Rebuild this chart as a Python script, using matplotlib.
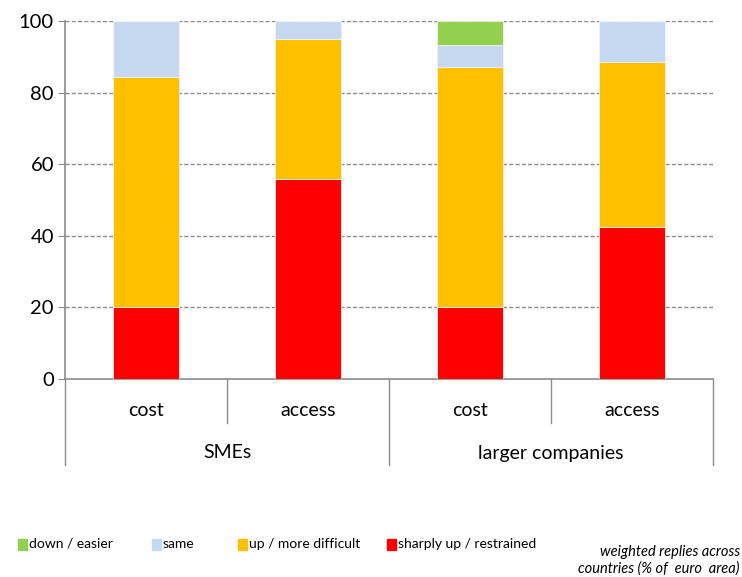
import matplotlib
matplotlib.use("Agg")
import matplotlib.pyplot as plt
from matplotlib.lines import Line2D
from matplotlib.patches import Rectangle
import numpy as np

plt.rcParams['font.family'] = ['Lato', 'DejaVu Sans']

categories = ["cost", "access", "cost", "access"]
groups = ["SMEs", "larger companies"]
series_names = ["sharply up / restrained", "up / more difficult", "same", "down / easier"]
sharply_up = [20.0, 55.9, 20.0, 42.4]
up = [64.4, 39.2, 67.1, 46.2]
same = [15.6, 4.9, 6.2, 11.4]
down = [0.0, 0.0, 6.7, 0.0]
yticks = [0, 20, 40, 60, 80, 100]

colors = {
    "sharply up / restrained": "#FF0000",
    "up / more difficult": "#FFC000",
    "same": "#C6D9F1",
    "down / easier": "#92D050",
}

fig = plt.figure(figsize=(7.42, 5.77), dpi=100)
W, H = 742, 577
left, right, top, bottom = 65, 713, 21, 379
ax = fig.add_axes([left / W, 1 - bottom / H, (right - left) / W, (bottom - top) / H])

x = np.arange(len(categories))
width = 0.41
base = np.zeros(len(categories))
for name, vals in zip(series_names, [sharply_up, up, same, down]):
    v = np.array(vals)
    ax.bar(x, v, width, bottom=base, color=colors[name], edgecolor="#F2F2F2",
           linewidth=0.6, zorder=3)
    base += v

ax.set_xlim(-0.5, 3.5)
ax.set_ylim(0, 100)
ax.set_yticks(yticks)
ax.set_yticklabels([str(t) for t in yticks], fontsize=14.5)
for t in yticks[1:]:
    ax.axhline(t, color="#8C8C8C", linestyle=(0, (3, 1.5)), linewidth=1.0, zorder=1)
ax.tick_params(axis="y", length=5, color="#8C8C8C", pad=3)
ax.tick_params(axis="x", length=0, labelbottom=False)
for s in ["top", "right"]:
    ax.spines[s].set_visible(False)
ax.spines["left"].set_color("#8C8C8C")
ax.spines["bottom"].set_color("#8C8C8C")
ax.spines["left"].set_linewidth(1.2)
ax.spines["bottom"].set_linewidth(1.2)

# two-level category axis below the plot
trans = ax.get_xaxis_transform()
ah = bottom - top
def yfrac(py):
    return (bottom - py) / ah

for i, c in enumerate(categories):
    ax.text(i, yfrac(410), c, transform=trans, ha="center", va="center", fontsize=14)
for g_i, g in enumerate(groups):
    ax.text(2 * g_i + 0.5, yfrac(453), g, transform=trans, ha="center", va="center", fontsize=14)
for xb in [0.5, 2.5]:
    ax.add_line(Line2D([xb, xb], [0, yfrac(423)], transform=trans, color="#8C8C8C",
                       linewidth=1.0, clip_on=False))
for xb in [-0.5, 1.5, 3.5]:
    ax.add_line(Line2D([xb, xb], [0, yfrac(465)], transform=trans, color="#8C8C8C",
                       linewidth=1.0, clip_on=False))

# legend row
legend_items = [("down / easier", 18), ("same", 152), ("up / more difficult", 238),
                ("sharply up / restrained", 387)]
for name, px in legend_items:
    fig.patches.append(Rectangle((px / W, 1 - 550 / H), 9 / W, 11 / H,
                                 transform=fig.transFigure, color=colors[name]))
    fig.text((px + 11) / W, 1 - 544 / H, name, fontsize=10, va="center", ha="left")

fig.text(740 / W, 1 - 552 / H, "weighted replies across", fontsize=10.5,
         style="italic", ha="right", va="center")
fig.text(740 / W, 1 - 569 / H, "countries (% of  euro  area)", fontsize=10.5,
         style="italic", ha="right", va="center")

fig.savefig("out.png", dpi=100)
